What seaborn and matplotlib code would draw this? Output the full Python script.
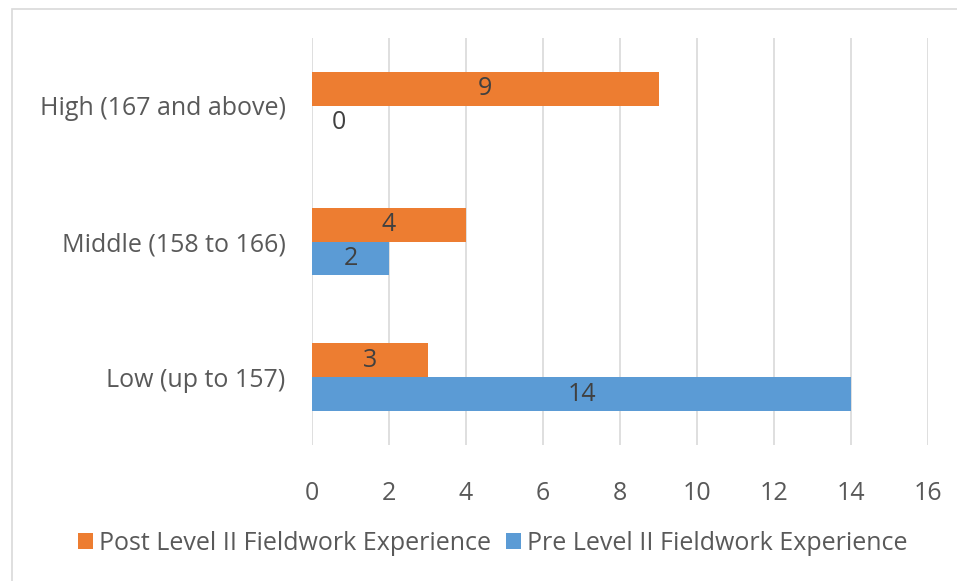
"""
Horizontal grouped bars: pre vs post Level II fieldwork experience.
"""

import matplotlib.pyplot as plt
import pandas as pd
import seaborn as sns
from matplotlib.patches import Rectangle

categories = ["High (167 and above)", "Middle (158 to 166)", "Low (up to 157)"]
post_values = [9, 4, 3]
pre_values = [0, 2, 14]
series = ["Post Level II Fieldwork Experience", "Pre Level II Fieldwork Experience"]
colors = ["#ED7D31", "#5B9BD5"]
x_ticks = [0, 2, 4, 6, 8, 10, 12, 14, 16]

df = pd.DataFrame(
    {
        "category": categories * 2,
        "value": post_values + pre_values,
        "series": [series[0]] * 3 + [series[1]] * 3,
    }
)

sns.set_style("white")
plt.rcParams["font.family"] = ["Open Sans", "DejaVu Sans"]

fig = plt.figure(figsize=(9.57, 5.81), dpi=100)
ax = fig.add_axes([312 / 957, 1 - 445 / 581, (928 - 312) / 957, (445 - 38) / 581])

sns.barplot(
    data=df, x="value", y="category", hue="series", order=categories,
    hue_order=series, palette=colors, width=0.5, orient="h", ax=ax,
    saturation=1, edgecolor="none",
)

for cont in ax.containers:
    vals = [int(b.get_width()) for b in cont]
    ax.bar_label(cont, labels=[str(v) if v else "" for v in vals],
                 label_type="center", fontsize=18, color="#404040")
    ax.bar_label(cont, labels=["" if v else str(v) for v in vals],
                 label_type="edge", padding=14, fontsize=18, color="#404040")

ax.set_xlim(0, 16)
ax.set_xticks(x_ticks)
ax.set_ylim(2.5, -0.5)
ax.grid(axis="x", color="#D9D9D9", linewidth=1.2)
ax.set_axisbelow(True)
for s in ax.spines.values():
    s.set_visible(False)
ax.tick_params(axis="both", length=0, labelsize=18, colors="#595959")
ax.tick_params(axis="x", pad=26)
ax.tick_params(axis="y", pad=19)
ax.set(xlabel=None, ylabel=None)

ax.legend_.remove()
handles, labels = ax.get_legend_handles_labels()
fig.legend(handles, labels, loc="center", bbox_to_anchor=(0.515, 1 - 543 / 581),
           ncol=2, frameon=False, fontsize=18, labelcolor="#595959",
           handlelength=0.6, handleheight=0.6, handletextpad=0.25, columnspacing=0.6)

fig.patches.append(Rectangle((12 / 957, -0.1), 1.2, 1 - 9 / 581 + 0.1,
                             transform=fig.transFigure, fill=False,
                             edgecolor="#D9D9D9", linewidth=1.2))

plt.savefig("out.png", dpi=100)
